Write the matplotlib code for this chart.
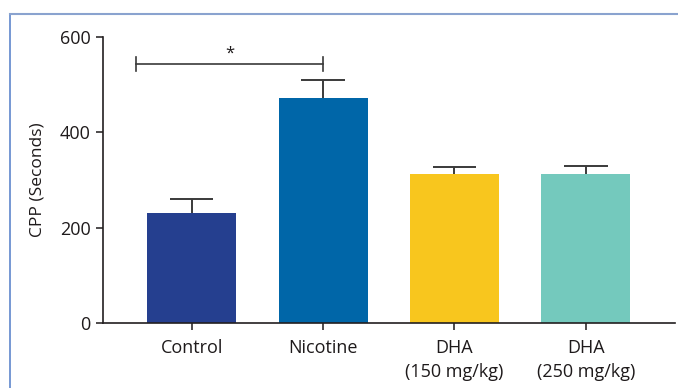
import matplotlib
matplotlib.use("Agg")
import matplotlib.pyplot as plt
from matplotlib.lines import Line2D

categories = ["Control", "Nicotine", "DHA\n(150 mg/kg)", "DHA\n(250 mg/kg)"]
values = [231, 472, 313, 313]
errors = [30, 37, 15, 17]
colors = ["#253f8f", "#0066a8", "#f8c61e", "#74c9bd"]
yticks = [0, 200, 400, 600]
sig_y = 543
sig_x = (-0.42, 1.0)

plt.rcParams['font.family'] = ['Open Sans', 'DejaVu Sans']
fig = plt.figure(figsize=(6.78, 3.88), dpi=100)
ax = fig.add_axes([0.152, 0.1668, 0.844, 0.7378])

x = list(range(len(categories)))
bar_w = 0.678
cap_w = 0.33
ax.bar(x, values, width=bar_w, color=colors, zorder=2)
tops = [v + e for v, e in zip(values, errors)]
ax.vlines(x, values, tops, color='#3a3a3a', lw=1.4, zorder=1)
ax.hlines(tops, [xi - cap_w / 2 for xi in x], [xi + cap_w / 2 for xi in x],
          color='#3a3a3a', lw=1.4, zorder=1)

ax.set_xlim(-0.674, 3.68)
ax.set_ylim(0, 600)
ax.set_yticks(yticks)
ax.set_xticks(x)
ax.set_xticklabels(categories, fontsize=13, color='#1e1a1b', linespacing=1.45)
ax.tick_params(axis='y', labelsize=13, colors='#1e1a1b', length=5, width=1.1, pad=4)
ax.tick_params(axis='x', length=5, width=1.1, colors='#1e1a1b', pad=6)
ax.set_ylabel("CPP (Seconds)", fontsize=12.5, color='#1e1a1b', labelpad=10)
for s in ['top', 'right']:
    ax.spines[s].set_visible(False)
for s in ['left', 'bottom']:
    ax.spines[s].set_linewidth(1.2)
    ax.spines[s].set_color('#231f20')

# significance bracket
ax.plot([sig_x[0], sig_x[1]], [sig_y, sig_y], color='#3a3a3a', lw=1.2, clip_on=False)
for xx in sig_x:
    ax.plot([xx, xx], [sig_y - 15, sig_y + 15], color='#3a3a3a', lw=1.2, clip_on=False)
ax.text(sum(sig_x) / 2, sig_y + 6, "*", ha='center', va='bottom', fontsize=12, color='#1e1a1b')

# frame
fig.add_artist(Line2D([10/678, 10/678], [0, 1 - 14/388], transform=fig.transFigure, color='#5f86cc', lw=1.2))
fig.add_artist(Line2D([10/678, 1], [1 - 14/388, 1 - 14/388], transform=fig.transFigure, color='#8aa3cf', lw=1.5))

fig.savefig("out.png", dpi=100)
